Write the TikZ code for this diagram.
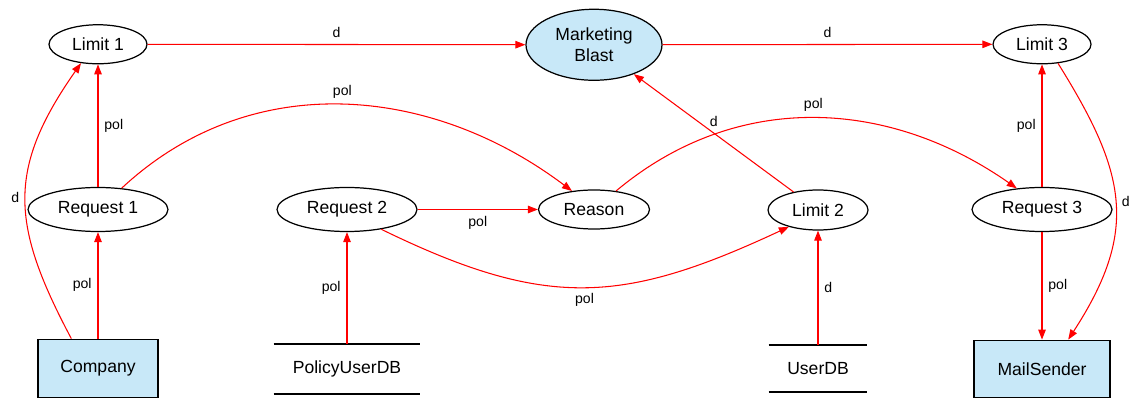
\documentclass[tikz,border=0pt]{standalone}
\usepackage{fontspec}
\setmainfont{Liberation Sans}
\usetikzlibrary{shapes.geometric, arrows.meta, positioning}
\definecolor{extBlue}{RGB}{200,232,248}
\definecolor{flowRed}{RGB}{255,0,0}

\begin{document}
\begin{tikzpicture}[
  proc/.style={ellipse, draw=black, line width=0.7pt, inner sep=0pt,
               minimum width=1.96cm, minimum height=0.78cm},
  req/.style={proc, minimum width=2.8cm, minimum height=0.88cm},
  ext/.style={rectangle, draw=black, line width=0.7pt, fill=extBlue,
              minimum width=2.4cm, minimum height=1.16cm},
  store/.style={rectangle, minimum height=1.0cm},
  arr/.style={-{Triangle[length=0.2cm, width=0.15cm]}, draw=flowRed,
              line width=0.6pt},
  lbl/.style={font=\footnotesize},
]
\useasboundingbox (0,0) rectangle (22.58,7.94);

%% Nodes
\node[req] (req1) at (1.96,3.75) {Request 1};
\node[req] (req2) at (6.94,3.75) {Request 2};
\node[proc, minimum width=2.22cm] (reason) at (11.88,3.75) {Reason};
\node[proc, minimum width=2.0cm, minimum height=0.8cm] (lim2) at (16.36,3.74) {Limit 2};
\node[req] (req3) at (20.84,3.75) {Request 3};

\node[proc, above=2.45cm of req1] (lim1) {Limit 1};
\node[proc, fill=extBlue, minimum width=2.72cm, minimum height=1.42cm,
      align=center, above=2.17cm of reason] (blast) {Marketing\\Blast};
\node[proc, above=2.45cm of req3] (lim3) {Limit 3};

\node[ext, below=2.13cm of req1] (company) {Company};
\node[store, minimum width=2.92cm, below=2.23cm of req2] (policydb) {PolicyUserDB};
\node[store, minimum width=1.96cm, minimum height=0.94cm,
      below=2.28cm of lim2] (userdb) {UserDB};
\node[ext, minimum width=2.72cm, minimum height=1.14cm,
      below=2.15cm of req3] (mail) {MailSender};

%% Data stores: open rectangles
\foreach \db in {policydb, userdb}
  \draw[line width=1.1pt] (\db.north west) -- (\db.north east)
                          (\db.south west) -- (\db.south east);

%% Edges
\draw[arr] (lim1)  -- node[above,lbl]{d} (blast);
\draw[arr] (blast) -- node[above,lbl]{d} (lim3);
\draw[arr] (req1)  -- node[right,lbl]{pol} (lim1);
\draw[arr] (company) -- node[left,lbl]{pol} (req1);
\draw[arr] (company.132) to[out=118, in=235, looseness=1.2]
  node[left,lbl]{d} (lim1.228);
\draw[arr] (req1.42) to[out=43, in=143] node[above,lbl]{pol} (reason.140);
\draw[arr] (req2) -- node[below,lbl]{pol} (reason);
\draw[arr] (req2.330) to[out=-26, in=205, looseness=1.15]
  node[below,lbl]{pol} (lim2.210);
\draw[arr] (policydb) -- node[left,lbl]{pol} (req2);
\draw[arr] (userdb) -- node[right,lbl]{d} (lim2);
\draw[arr] (lim2) -- node[above,lbl]{d} (blast);
\draw[arr] (reason.40) to[out=40, in=145] node[above,lbl]{pol} (req3.140);
\draw[arr] (req3) -- node[left,lbl]{pol} (lim3);
\draw[arr] (req3) -- node[right,lbl]{pol} (mail);
\draw[arr] (lim3.310) to[out=302, in=57, looseness=1.2]
  node[right,lbl]{d} (mail.48);
\end{tikzpicture}
\end{document}
